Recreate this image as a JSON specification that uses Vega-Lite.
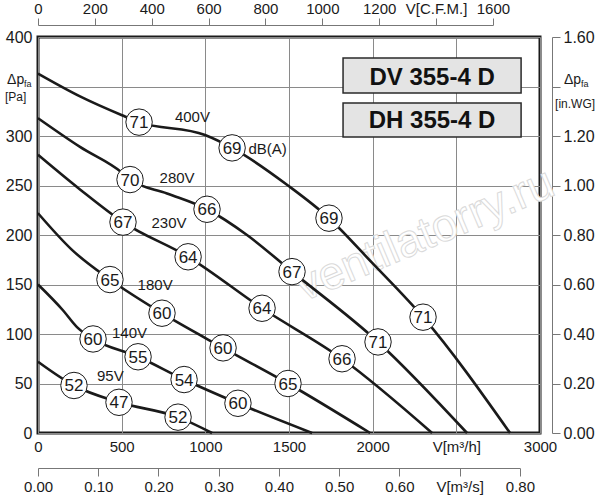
{
  "$schema": "https://vega.github.io/schema/vega-lite/v6.json",
  "width": 502,
  "height": 396,
  "autosize": {"type": "none"},
  "padding": {"left": 38, "top": 37, "right": 60, "bottom": 67},
  "background": "white",
  "datasets": {
    "curves": [
      {"curve": "400V", "Q": 0, "P": 363}, {"curve": "400V", "Q": 251, "P": 340}, {"curve": "400V", "Q": 502, "P": 321},
      {"curve": "400V", "Q": 604, "P": 314}, {"curve": "400V", "Q": 998, "P": 301}, {"curve": "400V", "Q": 1160, "P": 288},
      {"curve": "400V", "Q": 1494, "P": 250}, {"curve": "400V", "Q": 1739, "P": 217}, {"curve": "400V", "Q": 1996, "P": 172},
      {"curve": "400V", "Q": 2301, "P": 117}, {"curve": "400V", "Q": 2821, "P": 0},
      {"curve": "280V", "Q": 0, "P": 318}, {"curve": "280V", "Q": 251, "P": 289}, {"curve": "280V", "Q": 502, "P": 263},
      {"curve": "280V", "Q": 550, "P": 256}, {"curve": "280V", "Q": 771, "P": 242}, {"curve": "280V", "Q": 1010, "P": 226},
      {"curve": "280V", "Q": 1249, "P": 200}, {"curve": "280V", "Q": 1518, "P": 163}, {"curve": "280V", "Q": 2032, "P": 92},
      {"curve": "280V", "Q": 2564, "P": 0},
      {"curve": "230V", "Q": 0, "P": 281}, {"curve": "230V", "Q": 251, "P": 246}, {"curve": "230V", "Q": 508, "P": 213},
      {"curve": "230V", "Q": 897, "P": 178}, {"curve": "230V", "Q": 1339, "P": 126}, {"curve": "230V", "Q": 1817, "P": 75},
      {"curve": "230V", "Q": 2355, "P": 0},
      {"curve": "180V", "Q": 0, "P": 222}, {"curve": "180V", "Q": 203, "P": 185}, {"curve": "180V", "Q": 430, "P": 155},
      {"curve": "180V", "Q": 741, "P": 121}, {"curve": "180V", "Q": 1106, "P": 86}, {"curve": "180V", "Q": 1494, "P": 50},
      {"curve": "180V", "Q": 1985, "P": 0},
      {"curve": "140V", "Q": 0, "P": 150}, {"curve": "140V", "Q": 149, "P": 124}, {"curve": "140V", "Q": 233, "P": 107},
      {"curve": "140V", "Q": 329, "P": 95}, {"curve": "140V", "Q": 598, "P": 77}, {"curve": "140V", "Q": 873, "P": 54},
      {"curve": "140V", "Q": 1195, "P": 30}, {"curve": "140V", "Q": 1638, "P": 0},
      {"curve": "95V", "Q": 0, "P": 72}, {"curve": "95V", "Q": 215, "P": 48}, {"curve": "95V", "Q": 484, "P": 31},
      {"curve": "95V", "Q": 837, "P": 16}, {"curve": "95V", "Q": 1040, "P": 0}
    ],
    "noise": [
      {"Q": 604, "P": 314, "db": "71"}, {"Q": 1160, "P": 288, "db": "69"}, {"Q": 1739, "P": 217, "db": "69"}, {"Q": 2301, "P": 117, "db": "71"},
      {"Q": 550, "P": 256, "db": "70"}, {"Q": 1010, "P": 226, "db": "66"}, {"Q": 1518, "P": 163, "db": "67"}, {"Q": 2032, "P": 92, "db": "71"},
      {"Q": 508, "P": 213, "db": "67"}, {"Q": 897, "P": 178, "db": "64"}, {"Q": 1339, "P": 126, "db": "64"}, {"Q": 1817, "P": 75, "db": "66"},
      {"Q": 430, "P": 155, "db": "65"}, {"Q": 741, "P": 121, "db": "60"}, {"Q": 1106, "P": 86, "db": "60"}, {"Q": 1494, "P": 50, "db": "65"},
      {"Q": 329, "P": 95, "db": "60"}, {"Q": 598, "P": 77, "db": "55"}, {"Q": 873, "P": 54, "db": "54"}, {"Q": 1195, "P": 30, "db": "60"},
      {"Q": 215, "P": 48, "db": "52"}, {"Q": 484, "P": 31, "db": "47"}, {"Q": 837, "P": 16, "db": "52"}
    ],
    "labels": [
      {"Q": 923, "P": 318.7, "text": "400V"},
      {"Q": 1372, "P": 287, "text": "dB(A)"},
      {"Q": 831, "P": 257.6, "text": "280V"},
      {"Q": 783, "P": 212, "text": "230V"},
      {"Q": 700, "P": 150, "text": "180V"},
      {"Q": 547, "P": 101, "text": "140V"},
      {"Q": 432, "P": 58, "text": "95V"}
    ],
    "boxes": [
      {"name": "DV 355-4 D", "Q": 1823, "Q2": 2887, "P": 378.8, "P2": 343.4, "Qc": 2355, "Pc": 359.6},
      {"name": "DH 355-4 D", "Q": 1823, "Q2": 2887, "P": 333.3, "P2": 299, "Qc": 2355, "Pc": 316.2}
    ],
    "axisTitles": [
      {"part": "symbol", "Q": -185, "P": 352.5, "text": "Δp"},
      {"part": "sub", "Q": -84, "P": 349.5, "text": "fa"},
      {"part": "unit", "Q": -197, "P": 339.4, "text": "[Pa]"},
      {"part": "symbol", "Q": 3143, "P": 352.5, "text": "Δp"},
      {"part": "sub", "Q": 3245, "P": 349.5, "text": "fa"},
      {"part": "unit", "Q": 3090, "P": 332.3, "text": "[in.WG]"}
    ],
    "watermark": [
      {"Q": 2313, "P": 200, "text": "ventilatorry.ru"}
    ],
    "axisRange": [
      {"cfm": 0, "inwg": 0, "m3s": 0},
      {"cfm": 1600, "inwg": 1.6, "m3s": 0.8}
    ]
  },
  "layer": [
    {
      "encoding": {
        "x": {
          "field": "Q",
          "type": "quantitative",
          "scale": {"domain": [0, 3000], "nice": false, "zero": false},
          "axis": {
            "title": null,
            "values": [0, 500, 1000, 1500, 2000, 2500, 3000],
            "format": "d",
            "labelExpr": "datum.value == 2500 ? 'V[m³/h]' : datum.label",
            "grid": true,
            "gridColor": "#8a8a8a",
            "gridWidth": 1,
            "ticks": false,
            "domain": false,
            "labelFontSize": 15,
            "labelPadding": 6,
            "labelFlush": false,
            "labelColor": "#1a1a1a"
          }
        },
        "y": {
          "field": "P",
          "type": "quantitative",
          "scale": {"domain": [0, 400], "nice": false, "zero": false},
          "axis": {
            "title": null,
            "values": [0, 50, 100, 150, 200, 250, 300, 350, 400],
            "format": "d",
            "labelExpr": "datum.value == 350 ? '' : datum.label",
            "grid": true,
            "gridColor": "#8a8a8a",
            "gridWidth": 1,
            "ticks": false,
            "domain": false,
            "labelFontSize": 16,
            "labelPadding": 6,
            "labelFlush": false,
            "labelColor": "#1a1a1a"
          }
        }
      },
      "layer": [
        {
          "data": {"name": "watermark"},
          "mark": {"type": "text", "angle": -23, "fontSize": 46, "fill": "white", "stroke": "#dadada", "strokeWidth": 1, "align": "center", "baseline": "middle"},
          "encoding": {"text": {"field": "text"}}
        },
        {
          "data": {"name": "boxes"},
          "mark": {"type": "rect", "fill": "#e4e4e4", "stroke": "#2a2a2a", "strokeWidth": 1.5},
          "encoding": {
            "x2": {"field": "Q2"},
            "y2": {"field": "P2"}
          }
        },
        {
          "data": {"name": "boxes"},
          "mark": {"type": "text", "fontSize": 24, "fontWeight": "bold", "color": "#111", "align": "center", "baseline": "middle", "dy": 1},
          "encoding": {
            "x": {"field": "Qc", "type": "quantitative"},
            "y": {"field": "Pc", "type": "quantitative"},
            "text": {"field": "name"}
          }
        },
        {
          "data": {"name": "curves"},
          "mark": {"type": "line", "color": "#1a1a1a", "strokeWidth": 2.6, "interpolate": "monotone"},
          "encoding": {"detail": {"field": "curve"}}
        },
        {
          "data": {"name": "noise"},
          "mark": {"type": "point", "shape": "circle", "filled": true, "fill": "white", "stroke": "#1a1a1a", "strokeWidth": 1, "size": 700, "opacity": 1}
        },
        {
          "data": {"name": "noise"},
          "mark": {"type": "text", "fontSize": 17, "color": "#1a1a1a", "align": "center", "baseline": "middle", "dy": 1},
          "encoding": {"text": {"field": "db"}}
        },
        {
          "data": {"name": "labels"},
          "mark": {"type": "text", "fontSize": 15, "color": "#1a1a1a", "align": "center", "baseline": "middle"},
          "encoding": {"text": {"field": "text"}}
        },
        {
          "data": {"name": "axisTitles"},
          "transform": [{"filter": "datum.part == 'symbol'"}],
          "mark": {"type": "text", "fontSize": 14, "color": "#1a1a1a", "align": "left", "baseline": "alphabetic"},
          "encoding": {"text": {"field": "text"}}
        },
        {
          "data": {"name": "axisTitles"},
          "transform": [{"filter": "datum.part == 'sub'"}],
          "mark": {"type": "text", "fontSize": 9, "color": "#1a1a1a", "align": "left", "baseline": "alphabetic"},
          "encoding": {"text": {"field": "text"}}
        },
        {
          "data": {"name": "axisTitles"},
          "transform": [{"filter": "datum.part == 'unit'"}],
          "mark": {"type": "text", "fontSize": 12, "color": "#1a1a1a", "align": "left", "baseline": "middle"},
          "encoding": {"text": {"field": "text"}}
        }
      ]
    },
    {
      "data": {"name": "axisRange"},
      "mark": {"type": "point", "opacity": 0},
      "encoding": {
        "x": {
          "field": "cfm",
          "type": "quantitative",
          "scale": {"domain": [0, 1600], "range": [0, 454.9], "nice": false, "zero": false},
          "axis": {
            "title": null,
            "orient": "top",
            "offset": 12,
            "values": [0, 200, 400, 600, 800, 1000, 1200, 1400, 1600],
            "format": "d",
            "labelExpr": "datum.value == 1400 ? 'V[C.F.M.]' : datum.label",
            "grid": false,
            "tickSize": 7,
            "tickColor": "#777",
            "domainColor": "#777",
            "labelFontSize": 15,
            "labelPadding": 2,
            "labelFlush": false,
            "labelColor": "#1a1a1a"
          }
        },
        "y": {
          "field": "inwg",
          "type": "quantitative",
          "scale": {"domain": [0, 1.6], "nice": false, "zero": false},
          "axis": {
            "title": null,
            "orient": "right",
            "offset": 12,
            "values": [0, 0.2, 0.4, 0.6, 0.8, 1, 1.2, 1.4, 1.6],
            "format": ".2f",
            "labelExpr": "datum.value > 1.39 && datum.value < 1.41 ? '' : datum.label",
            "grid": false,
            "tickSize": 8,
            "tickColor": "#777",
            "domainColor": "#777",
            "labelFontSize": 16,
            "labelPadding": 3,
            "labelFlush": false,
            "labelColor": "#1a1a1a"
          }
        }
      }
    },
    {
      "data": {"name": "axisRange"},
      "mark": {"type": "point", "opacity": 0},
      "encoding": {
        "x": {
          "field": "m3s",
          "type": "quantitative",
          "scale": {"domain": [0, 0.8], "range": [0, 481.9], "nice": false, "zero": false},
          "axis": {
            "title": null,
            "orient": "bottom",
            "offset": 35,
            "values": [0, 0.1, 0.2, 0.3, 0.4, 0.5, 0.6, 0.7, 0.8],
            "format": ".2f",
            "labelExpr": "datum.value > 0.69 && datum.value < 0.71 ? 'V[m³/s]' : datum.label",
            "grid": false,
            "tickSize": 8,
            "tickColor": "#777",
            "domainColor": "#777",
            "labelFontSize": 15,
            "labelPadding": 3,
            "labelFlush": false,
            "labelColor": "#1a1a1a"
          }
        }
      }
    }
  ],
  "resolve": {"scale": {"x": "independent", "y": "independent"}},
  "config": {
    "font": "Liberation Sans",
    "view": {"stroke": "#1a1a1a", "strokeWidth": 3}
  }
}
